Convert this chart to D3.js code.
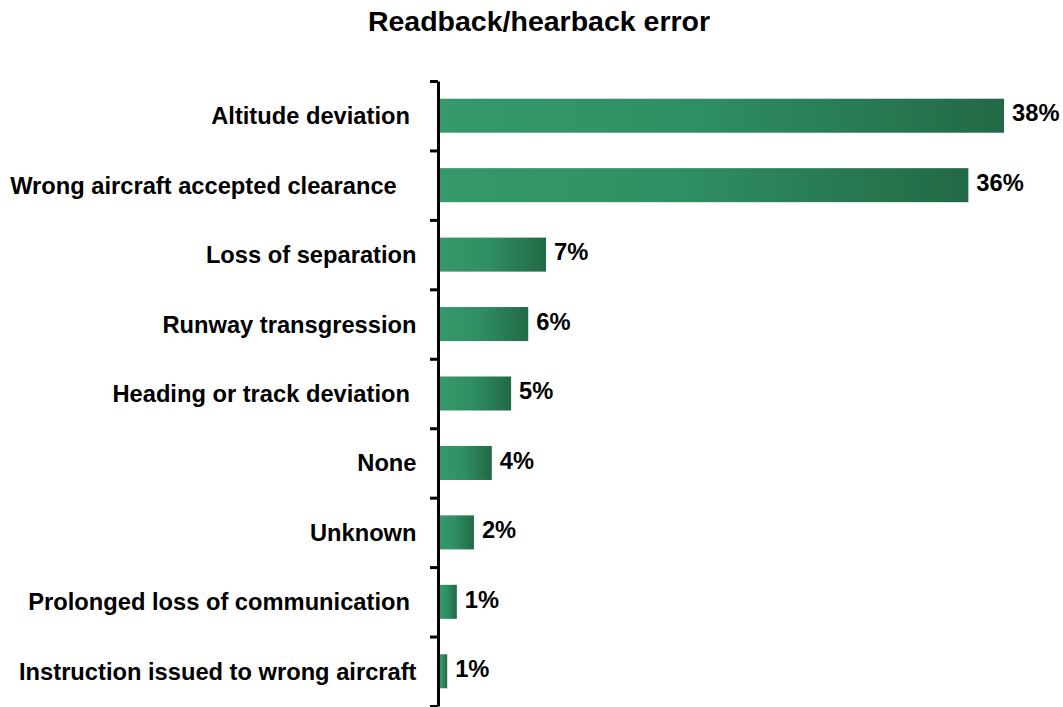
<!DOCTYPE html>
<html lang="en">
<head>
<meta charset="UTF-8">
<title>Readback/hearback error</title>
<script src="https://d3js.org/d3.v7.min.js"></script>
<style>
    body { margin: 0; background: #fff; }
    svg text { font-family: "Liberation Sans", Arial, sans-serif; font-weight: bold; fill: #000; }
    .cat { white-space: pre; }
</style>
</head>
<body>
<div id="chart"></div>
<script>
// categories (trailing spaces as in the source labels)
const categories = [
  "Altitude deviation ",
  "Wrong aircraft accepted clearance   ",
  "Loss of separation",
  "Runway transgression",
  "Heading or track deviation ",
  "None",
  "Unknown",
  "Prolonged loss of communication ",
  "Instruction issued to wrong aircraft"
];
// share of reports, percent
const values = [38, 35.6, 7.2, 6.0, 4.85, 3.55, 2.35, 1.2, 0.55];

const width = 1063, height = 707;

const svg = d3.select("#chart").append("svg")
  .attr("width", width)
  .attr("height", height);

// gradient fill, light green on the left to dark on the right
const grad = svg.append("defs").append("linearGradient")
  .attr("id", "barGrad")
  .attr("x1", "0").attr("x2", "1").attr("y1", "0").attr("y2", "0");
grad.append("stop").attr("offset", "0").attr("stop-color", "#35996b");
grad.append("stop").attr("offset", "0.45").attr("stop-color", "#2f8f64");
grad.append("stop").attr("offset", "1").attr("stop-color", "#226946");

const plotTop = 81, plotBottom = 706, axisX = 438;

const y = d3.scaleBand()
  .domain(categories)
  .range([plotTop, plotBottom])
  .paddingInner(0.51)
  .paddingOuter(0.255);

const x = d3.scaleLinear()
  .domain([0, 40])
  .range([439, 439 + 40 * 14.87]);

// title
svg.append("text")
  .attr("x", 539)
  .attr("y", 31)
  .attr("text-anchor", "middle")
  .attr("font-size", "28.5px")
  .text("Readback/hearback error");

// bars
svg.selectAll("rect.bar")
  .data(values)
  .enter().append("rect")
  .attr("class", "bar")
  .attr("x", x(0))
  .attr("y", (d, i) => y(categories[i]))
  .attr("width", d => x(d) - x(0))
  .attr("height", y.bandwidth())
  .attr("fill", "url(#barGrad)");

// value labels
svg.selectAll("text.val")
  .data(values)
  .enter().append("text")
  .attr("class", "val")
  .attr("x", d => x(d) + 8)
  .attr("y", (d, i) => y(categories[i]) + y.bandwidth() / 2)
  .attr("dy", "0.24em")
  .attr("font-size", "23.7px")
  .text(d => Math.round(d) + "%");

// category labels
svg.selectAll("text.cat")
  .data(categories)
  .enter().append("text")
  .attr("class", "cat")
  .attr("x", 416.5)
  .attr("y", d => y(d) + y.bandwidth() / 2)
  .attr("dy", "0.36em")
  .attr("text-anchor", "end")
  .attr("font-size", "23.7px")
  .text(d => d);

// vertical axis with tick marks between categories
const edge = d3.scaleLinear().domain([0, categories.length]).range([plotTop, plotBottom]);
const axis = svg.append("g")
  .attr("transform", `translate(${axisX},0)`)
  .call(d3.axisLeft(edge)
    .tickValues(d3.range(categories.length + 1))
    .tickSize(8)
    .tickSizeOuter(0)
    .tickFormat(""));
axis.select(".domain").attr("stroke", "#000").attr("stroke-width", 3);
axis.selectAll(".tick line").attr("stroke", "#000").attr("stroke-width", 3);
</script>
</body>
</html>
